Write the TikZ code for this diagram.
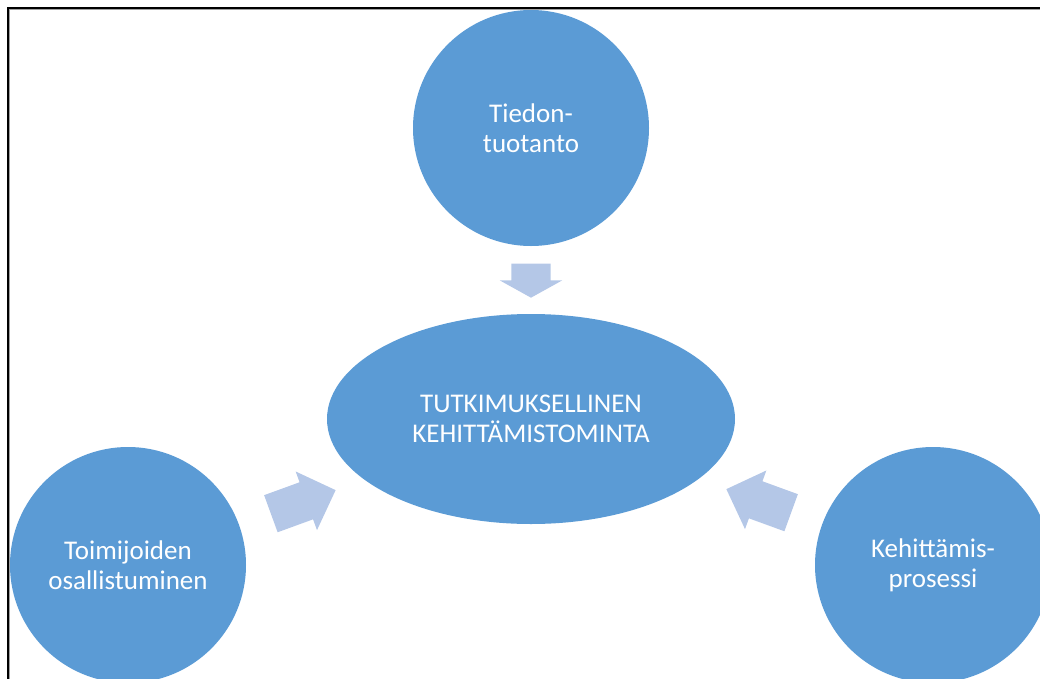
\documentclass[tikz,border=0pt]{standalone}
\usepackage{fontspec}
\setmainfont{Carlito}
\usetikzlibrary{shapes.geometric, shapes.arrows}
\definecolor{blue1}{HTML}{5B9BD5}
\definecolor{blue2}{HTML}{B4C7E7}
\definecolor{gray1}{HTML}{A0A0A0}

\begin{document}
\begin{tikzpicture}[
    x=0.75pt, y=-0.75pt,
    C/.style={circle, fill=blue1, minimum size=177pt, inner sep=0pt,
              text=white, align=center, font=\fontsize{20.25}{22.5}\selectfont},
    E/.style={ellipse, fill=blue1, minimum width=306pt, minimum height=157.5pt, inner sep=0pt,
              text=white, align=center, font=\fontsize{20.25}{22.5}\selectfont},
    R/.style={single arrow, fill=blue2, draw=none, inner xsep=0pt, inner ysep=14.6pt,
              single arrow head extend=8.6pt, minimum height=#1, anchor=tip}
]

% === PAGE ===
\useasboundingbox (0,0) rectangle (1040,679);
\clip (0,0) rectangle (1040,679);
\draw[gray1, line width=0.75pt] (9.8,679) -- (9.8,9.8) -- (1040,9.8);
\draw[black, line width=1.5pt] (8,679) -- (8,8) -- (1040,8);

% === NODES ===
\node[C] (tiedon) at (531,128) {Tiedon-\\tuotanto};
\node[E] (tkt) at (531,419) {TUTKIMUKSELLINEN\\KEHITTÄMISTOMINTA};
\node[C] (toim) at (128,565) {Toimijoiden\\osallistuminen};
\node[C] (keh) at (933,565) {Kehittämis-\\prosessi};

% === BLOCK ARROWS ===
\node[R=25.5pt, single arrow tip angle=122, rotate=-90] (a1) at (531,298) {};
\node[R=51.7pt, rotate=20] (a2) at (336,490) {};
\node[R=51.7pt, rotate=160] (a3) at (726,489) {};

\end{tikzpicture}
\end{document}
